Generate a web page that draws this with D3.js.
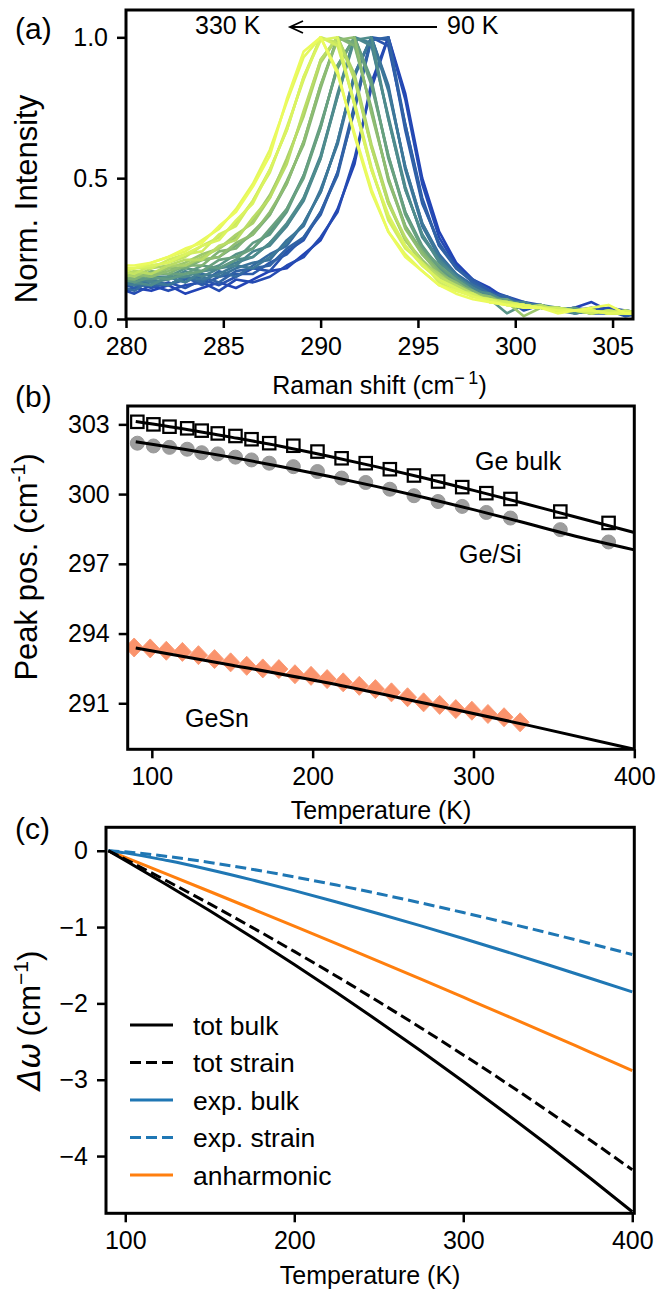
<!DOCTYPE html>
<html><head><meta charset="utf-8">
<script src="https://cdn.jsdelivr.net/npm/d3@7"></script>
<style>body{margin:0;background:#fff} text{font-family:"Liberation Sans",Arial,sans-serif;fill:#000}</style>
</head><body>
<script>
// ---------- Panel (a): Raman spectra ----------
const ramanShift = [279.56,280.43,281.30,282.17,283.04,283.91,284.78,285.65,286.52,287.39,288.26,289.13,290.00,290.87,291.74,292.61,293.48,294.35,295.22,296.09,296.96,297.83,298.70,299.57,300.44,301.31,302.18,303.05,303.92,304.79,305.66,306.53];
const spectraTemps = [90,100,110,120,130,140,150,160,170,180,190,200,210,220,230,240,250,260,270,280,290,300,310,320,330];
const spec90  = [0.09,0.11,0.10,0.12,0.09,0.11,0.13,0.11,0.14,0.17,0.18,0.23,0.28,0.39,0.55,0.84,1.0,0.80,0.50,0.31,0.20,0.14,0.11,0.07,0.05,0.04,0.03,0.04,0.06,0.03,0.02,0.03];
const spec100 = [0.11,0.09,0.12,0.10,0.12,0.13,0.10,0.14,0.13,0.15,0.19,0.22,0.29,0.38,0.57,0.82,1.0,0.78,0.48,0.29,0.19,0.13,0.10,0.08,0.06,0.05,0.03,0.04,0.03,0.04,0.03,0.02];
const spec110 = [0.10,0.13,0.11,0.13,0.11,0.14,0.12,0.15,0.18,0.17,0.24,0.28,0.38,0.52,0.74,1.0,0.97,0.69,0.43,0.26,0.19,0.13,0.09,0.07,0.03,0.05,0.03,0.03,0.04,0.02,0.02,0.03];
const spec120 = [0.13,0.11,0.14,0.12,0.15,0.12,0.15,0.16,0.16,0.20,0.23,0.29,0.37,0.52,0.76,1.0,0.99,0.67,0.41,0.27,0.18,0.14,0.10,0.06,0.06,0.04,0.04,0.02,0.03,0.03,0.01,0.02];
const spec130 = [0.11,0.14,0.12,0.12,0.14,0.15,0.13,0.17,0.18,0.19,0.25,0.29,0.38,0.51,0.75,0.99,1.0,0.69,0.42,0.26,0.18,0.13,0.09,0.08,0.05,0.04,0.03,0.04,0.02,0.02,0.03,0.02];
const spec140 = [0.12,0.10,0.14,0.12,0.15,0.13,0.17,0.15,0.19,0.23,0.26,0.34,0.45,0.63,0.87,1.0,0.82,0.54,0.34,0.23,0.16,0.12,0.08,0.07,0.04,0.05,0.03,0.03,0.02,0.03,0.02,0.02];
const spec150 = [0.14,0.12,0.12,0.15,0.13,0.16,0.15,0.18,0.20,0.21,0.28,0.33,0.46,0.62,0.86,1.0,0.83,0.53,0.33,0.22,0.15,0.12,0.09,0.06,0.05,0.04,0.04,0.03,0.03,0.02,0.02,0.01];
const spec160 = [0.12,0.14,0.13,0.12,0.15,0.14,0.16,0.19,0.18,0.22,0.27,0.34,0.45,0.63,0.87,1.0,0.81,0.54,0.34,0.22,0.16,0.11,0.08,0.07,0.05,0.04,0.03,0.02,0.03,0.02,0.02,0.02];
const spec170 = [0.13,0.12,0.15,0.15,0.13,0.17,0.18,0.20,0.22,0.27,0.33,0.43,0.58,0.79,1.0,0.98,0.71,0.46,0.30,0.21,0.15,0.10,0.08,0.06,0.05,0.04,0.04,0.03,0.02,0.03,0.02,0.02];
const spec180 = [0.12,0.15,0.13,0.14,0.17,0.15,0.18,0.19,0.24,0.26,0.33,0.42,0.57,0.80,1.0,0.97,0.72,0.47,0.29,0.21,0.15,0.11,0.08,0.06,0.06,0.04,0.03,0.03,0.03,0.02,0.02,0.03];
const spec190 = [0.14,0.13,0.12,0.15,0.15,0.17,0.18,0.21,0.22,0.27,0.34,0.43,0.57,0.79,0.99,1.0,0.71,0.46,0.30,0.20,0.15,0.10,0.09,0.06,0.05,0.05,0.04,0.02,0.03,0.02,0.03,0.02];
const spec200 = [0.13,0.15,0.14,0.15,0.18,0.17,0.19,0.23,0.25,0.31,0.39,0.51,0.68,0.90,1.0,0.84,0.58,0.38,0.25,0.18,0.14,0.10,0.07,0.02,0.05,0.04,0.04,0.03,0.03,0.02,0.02,0.02];
const spec210 = [0.15,0.13,0.15,0.14,0.16,0.19,0.18,0.21,0.27,0.30,0.38,0.51,0.69,0.89,1.0,0.85,0.57,0.38,0.26,0.18,0.13,0.09,0.08,0.06,0.05,0.04,0.03,0.04,0.02,0.03,0.02,0.02];
const spec220 = [0.13,0.14,0.16,0.16,0.16,0.17,0.21,0.22,0.25,0.32,0.39,0.50,0.68,0.90,1.0,0.83,0.58,0.37,0.25,0.19,0.14,0.10,0.07,0.07,0.04,0.05,0.03,0.03,0.03,0.02,0.03,0.02];
const spec230 = [0.14,0.16,0.15,0.18,0.18,0.21,0.22,0.26,0.30,0.37,0.48,0.63,0.83,1.0,0.98,0.74,0.50,0.33,0.23,0.17,0.12,0.09,0.07,0.06,0.05,0.04,0.04,0.03,0.03,0.02,0.02,0.02];
const spec240 = [0.15,0.14,0.17,0.16,0.19,0.19,0.24,0.25,0.31,0.37,0.49,0.62,0.82,1.0,0.97,0.75,0.49,0.33,0.24,0.17,0.12,0.10,0.07,0.06,0.05,0.04,0.03,0.03,0.02,0.03,0.02,0.02];
const spec250 = [0.14,0.16,0.15,0.17,0.19,0.21,0.22,0.27,0.30,0.38,0.48,0.63,0.83,0.99,1.0,0.73,0.50,0.32,0.23,0.16,0.13,0.09,0.08,0.05,0.05,0.04,0.04,0.03,0.03,0.02,0.02,0.02];
const spec260 = [0.15,0.17,0.16,0.18,0.20,0.23,0.25,0.29,0.35,0.44,0.56,0.73,0.92,1.0,0.86,0.61,0.41,0.28,0.21,0.15,0.11,0.09,0.07,0.06,0.01,0.04,0.03,0.03,0.03,0.02,0.02,0.02];
const spec270 = [0.16,0.15,0.18,0.19,0.19,0.22,0.25,0.30,0.34,0.43,0.57,0.72,0.91,1.0,0.87,0.62,0.42,0.28,0.20,0.16,0.11,0.08,0.07,0.05,0.05,0.04,0.04,0.03,0.02,0.03,0.02,0.02];
const spec280 = [0.15,0.17,0.16,0.19,0.21,0.21,0.26,0.28,0.36,0.43,0.55,0.74,0.92,1.0,0.85,0.61,0.41,0.29,0.20,0.15,0.12,0.09,0.06,0.06,0.04,0.05,0.03,0.03,0.03,0.02,0.02,0.02];
const spec290 = [0.17,0.16,0.19,0.20,0.22,0.26,0.29,0.34,0.42,0.53,0.67,0.86,1.0,0.98,0.76,0.53,0.36,0.26,0.19,0.14,0.11,0.08,0.07,0.06,0.05,0.04,0.03,0.03,0.03,0.02,0.02,0.02];
const spec300 = [0.16,0.18,0.18,0.21,0.23,0.24,0.30,0.33,0.42,0.52,0.68,0.85,1.0,0.97,0.77,0.54,0.35,0.25,0.20,0.13,0.10,0.09,0.06,0.06,0.05,0.04,0.04,0.03,0.02,0.03,0.02,0.02];
const spec310 = [0.17,0.18,0.19,0.20,0.23,0.26,0.28,0.35,0.41,0.53,0.67,0.86,0.99,1.0,0.76,0.53,0.37,0.26,0.19,0.14,0.11,0.08,0.07,0.05,0.05,0.04,0.03,0.03,0.03,0.02,0.03,0.02];
const spec320 = [0.18,0.18,0.20,0.22,0.24,0.28,0.32,0.39,0.48,0.60,0.77,0.93,1.0,0.88,0.65,0.45,0.31,0.23,0.17,0.12,0.10,0.08,0.06,0.05,0.05,0.04,0.03,0.03,0.03,0.02,0.02,0.02];
const spec330 = [0.19,0.19,0.20,0.22,0.25,0.27,0.33,0.38,0.47,0.58,0.78,0.95,1.0,0.87,0.66,0.46,0.31,0.22,0.17,0.12,0.09,0.07,0.06,0.05,0.04,0.04,0.02,0.03,0.04,0.05,0.02,0.02];
const spectra = [spec90,spec100,spec110,spec120,spec130,spec140,spec150,spec160,spec170,spec180,spec190,spec200,spec210,spec220,spec230,spec240,spec250,spec260,spec270,spec280,spec290,spec300,spec310,spec320,spec330];
const ticksAx = [280,285,290,295,300,305];
const ticksAy = [0,0.5,1.0];

// ---------- Panel (b): peak positions ----------
const tempBulk = [91,101,111,122,131,141,152,162,173,188,203,218,233,248,263,278,293,308,323,354,384];
const peakBulk = [303.11,303.0,302.9,302.83,302.73,302.61,302.5,302.36,302.19,302.08,301.83,301.54,301.33,301.07,300.8,300.54,300.3,300.04,299.79,299.25,298.76];
const peakGeSi = [302.19,302.07,302.01,301.93,301.78,301.73,301.59,301.47,301.33,301.18,300.97,300.69,300.50,300.21,299.93,299.68,299.47,299.21,298.97,298.47,297.94];
const tempGeSn = [89,99,109,119,129,139,149,159,169,179,189,199,209,219,229,239,249,259,269,279,289,299,309,319,329];
const peakGeSn = [293.4,293.36,293.26,293.21,293.07,292.9,292.76,292.61,292.5,292.47,292.25,292.18,292.04,291.9,291.75,291.61,291.47,291.26,291.04,290.93,290.75,290.68,290.54,290.4,290.18];
const fitTemp = [90,120,150,180,210,240,270,300,330,360,400];
const fitBulk = [303.12,302.80,302.44,302.06,301.63,301.17,300.68,300.16,299.63,299.08,298.35];
const fitGeSi = [302.25,301.93,301.58,301.19,300.77,300.32,299.84,299.33,298.80,298.25,297.60];
const fitTempGeSn = [90,150,210,270,335,400];
const fitGeSn = [293.38,292.64,291.87,291.0,290.04,289.02];
const ticksBx = [100,200,300,400];
const ticksBy = [291,294,297,300,303];

// ---------- Panel (c): shift contributions ----------
const tempC = [90,100,125,150,175,200,225,250,275,300,325,350,375,400];
const totBulk   = [0,-0.127,-0.452,-0.787,-1.133,-1.490,-1.857,-2.236,-2.625,-3.024,-3.435,-3.856,-4.288,-4.73];
const totStrain = [0,-0.112,-0.400,-0.697,-1.004,-1.319,-1.644,-1.979,-2.322,-2.675,-3.037,-3.409,-3.790,-4.18];
const expBulk   = [0,-0.028,-0.129,-0.249,-0.382,-0.523,-0.671,-0.826,-0.985,-1.150,-1.320,-1.493,-1.670,-1.85];
const expStrain = [0,-0.014,-0.075,-0.153,-0.243,-0.343,-0.450,-0.564,-0.684,-0.810,-0.941,-1.076,-1.216,-1.36];
const anharm    = [0,-0.088,-0.310,-0.534,-0.760,-0.987,-1.217,-1.449,-1.683,-1.919,-2.156,-2.396,-2.638,-2.88];
const legendNames = ["tot bulk","tot strain","exp. bulk","exp. strain","anharmonic"];
const ticksCx = [100,200,300,400];
const ticksCy = [0,-1,-2,-3,-4];

// ================= drawing =================
const FS = 25;
const svg = d3.select("body").append("svg").attr("width",658).attr("height",1304);
svg.append("rect").attr("width",658).attr("height",1304).attr("fill","#fff");

const RA = {l:126, r:633, t:10, b:319};
const RB = {l:127.7, r:634.3, t:406, b:749.3};
const RC = {l:106, r:634.3, t:827.3, b:1213.3};

function clip(id, R){
  svg.append("clipPath").attr("id",id).append("rect")
    .attr("x",R.l).attr("y",R.t).attr("width",R.r-R.l).attr("height",R.b-R.t);
}
clip("ca",RA); clip("cb",RB); clip("cc",RC);

function drawAxes(R, x, y, xt, yt, xf, yf){
  const gx = svg.append("g").attr("transform",`translate(0,${R.b})`)
    .call(d3.axisBottom(x).tickValues(xt).tickSize(9).tickSizeOuter(0).tickPadding(9).tickFormat(xf));
  const gy = svg.append("g").attr("transform",`translate(${R.l},0)`)
    .call(d3.axisLeft(y).tickValues(yt).tickSize(9).tickSizeOuter(0).tickPadding(9).tickFormat(yf));
  [gx,gy].forEach(g=>{
    g.select(".domain").remove();
    g.selectAll(".tick line").attr("stroke","#000").attr("stroke-width",2.5);
    g.selectAll(".tick text").attr("font-size",FS).attr("fill","#000")
      .attr("font-family","'Liberation Sans',Arial,sans-serif");
  });
  svg.append("rect").attr("x",R.l).attr("y",R.t).attr("width",R.r-R.l).attr("height",R.b-R.t)
    .attr("fill","none").attr("stroke","#000").attr("stroke-width",3);
}

// ----- (a)
const xA = d3.scaleLinear().domain([280,306.05]).range([RA.l,RA.r]);
const yA = d3.scaleLinear().domain([0,1.097]).range([RA.b,RA.t]);
const cmap = d3.interpolateRgbBasis(["#2243b6","#2d5ea8","#3b7898","#508d8b","#6ea67b","#9dc76c","#d2ee5f","#ebfb5d"]);
const gA = svg.append("g").attr("clip-path","url(#ca)");
const lineA = d3.line().x((d,i)=>xA(ramanShift[i])).y(d=>yA(d));
spectra.forEach((s,k)=>{
  gA.append("path").attr("d",lineA(s)).attr("fill","none")
    .attr("stroke",cmap(k/(spectra.length-1))).attr("stroke-width",2.6)
    .attr("stroke-linejoin","round");
});
drawAxes(RA,xA,yA,ticksAx,ticksAy,d3.format("d"),d3.format(".1f"));
svg.append("line").attr("x1",437).attr("y1",27).attr("x2",291).attr("y2",27).attr("stroke","#000").attr("stroke-width",1.8);
svg.append("path").attr("d","M303,21 L290,27 L303,33").attr("fill","none").attr("stroke","#000").attr("stroke-width",1.8);
svg.append("text").attr("x",195).attr("y",34).attr("font-size",FS).text("330 K");
svg.append("text").attr("x",447).attr("y",34).attr("font-size",FS).text("90 K");
svg.append("text").attr("x",15).attr("y",39).attr("font-size",30).text("(a)");
const xlA = svg.append("text").attr("x",(RA.l+RA.r)/2).attr("y",394).attr("font-size",FS).attr("text-anchor","middle");
xlA.append("tspan").text("Raman shift (cm");
xlA.append("tspan").attr("dy",-10).attr("font-size",18).text("−\u20091");
xlA.append("tspan").attr("dy",10).text(")");
svg.append("text").attr("transform",`translate(37,199) rotate(-90)`).attr("text-anchor","middle").attr("font-size",31).text("Norm. Intensity");

// ----- (b)
const xB = d3.scaleLinear().domain([85,400]).range([RB.l,RB.r]);
const yB = d3.scaleLinear().domain([289.02,303.79]).range([RB.b,RB.t]);
const gB = svg.append("g").attr("clip-path","url(#cb)");
gB.selectAll(".dia").data(peakGeSn).join("path")
  .attr("d","M0,-9.5 L9,0 L0,9.5 L-9,0 Z")
  .attr("transform",(d,i)=>`translate(${xB(tempGeSn[i])},${yB(d)})`)
  .attr("fill","#f9875c").attr("fill-opacity",0.9).attr("stroke","#fb9b76").attr("stroke-width",1);
gB.selectAll(".cir").data(peakGeSi).join("circle")
  .attr("cx",(d,i)=>xB(tempBulk[i])).attr("cy",d=>yB(d)).attr("r",7)
  .attr("fill","#8c8c8c").attr("fill-opacity",0.85).attr("stroke","#999").attr("stroke-width",1);
const fitLine = (tArr)=>d3.line().curve(d3.curveMonotoneX).x((d,i)=>xB(tArr[i])).y(d=>yB(d));
gB.append("path").attr("d",fitLine(fitTemp)(fitBulk)).attr("fill","none").attr("stroke","#000").attr("stroke-width",3);
gB.append("path").attr("d",fitLine(fitTemp)(fitGeSi)).attr("fill","none").attr("stroke","#000").attr("stroke-width",3);
gB.append("path").attr("d",fitLine(fitTempGeSn)(fitGeSn)).attr("fill","none").attr("stroke","#000").attr("stroke-width",3);
gB.selectAll(".sq").data(peakBulk).join("rect")
  .attr("x",(d,i)=>xB(tempBulk[i])-6.2).attr("y",d=>yB(d)-6.2).attr("width",12.4).attr("height",12.4)
  .attr("fill","none").attr("stroke","#000").attr("stroke-width",2.2);
drawAxes(RB,xB,yB,ticksBx,ticksBy,d3.format("d"),d3.format("d"));
svg.append("text").attr("x",475).attr("y",470).attr("font-size",FS).text("Ge bulk");
svg.append("text").attr("x",459).attr("y",563).attr("font-size",FS).text("Ge/Si");
svg.append("text").attr("x",185).attr("y",727).attr("font-size",FS).text("GeSn");
svg.append("text").attr("x",15).attr("y",407).attr("font-size",30).text("(b)");
svg.append("text").attr("x",(RB.l+RB.r)/2).attr("y",819).attr("font-size",FS).attr("text-anchor","middle").text("Temperature (K)");
const ylB = svg.append("text").attr("transform",`translate(37,567) rotate(-90)`).attr("text-anchor","middle").attr("font-size",31);
ylB.append("tspan").text("Peak pos. (cm");
ylB.append("tspan").attr("dy",-12).attr("font-size",21).text("-1");
ylB.append("tspan").attr("dy",12).text(")");

// ----- (c)
const xC = d3.scaleLinear().domain([88.6,401.2]).range([RC.l,RC.r]);
const yC = d3.scaleLinear().domain([-4.75,0.307]).range([RC.b,RC.t]);
const gC = svg.append("g").attr("clip-path","url(#cc)");
const lineC = d3.line().curve(d3.curveMonotoneX).x((d,i)=>xC(tempC[i])).y(d=>yC(d));
const seriesC = [
  {v:totBulk, c:"#000000", dash:null},
  {v:totStrain, c:"#000000", dash:"11,5"},
  {v:expBulk, c:"#1f77b4", dash:null},
  {v:expStrain, c:"#1f77b4", dash:"11,5"},
  {v:anharm, c:"#ff7f0e", dash:null}
];
[4,3,2,1,0].forEach(i=>{
  const s = seriesC[i];
  const p = gC.append("path").attr("d",lineC(s.v)).attr("fill","none").attr("stroke",s.c).attr("stroke-width",3);
  if(s.dash) p.attr("stroke-dasharray",s.dash);
});
drawAxes(RC,xC,yC,ticksCx,ticksCy,d3.format("d"),d=> d===0?"0":"−"+Math.abs(d));
const legY = [1025,1062.5,1100,1137.5,1175];
seriesC.forEach((s,i)=>{
  const l = svg.append("line").attr("x1",130).attr("x2",173).attr("y1",legY[i]).attr("y2",legY[i])
    .attr("stroke",s.c).attr("stroke-width",3);
  if(s.dash) l.attr("stroke-dasharray",s.dash);
  svg.append("text").attr("x",193).attr("y",legY[i]+9.5).attr("font-size",26.5).text(legendNames[i]);
});
svg.append("text").attr("x",15).attr("y",839).attr("font-size",30).text("(c)");
svg.append("text").attr("x",(RC.l+RC.r)/2).attr("y",1284).attr("font-size",FS).attr("text-anchor","middle").text("Temperature (K)");
const ylC = svg.append("text").attr("transform",`translate(40,${(RC.t+RC.b)/2}) rotate(-90)`).attr("text-anchor","middle").attr("font-size",31);
ylC.append("tspan").attr("font-family","'DejaVu Sans',sans-serif").attr("font-style","italic").text("Δω");
ylC.append("tspan").text("\u2009(cm");
ylC.append("tspan").attr("dy",-12).attr("font-size",21).text("−1");
ylC.append("tspan").attr("dy",12).text(")");
</script>
</body></html>
